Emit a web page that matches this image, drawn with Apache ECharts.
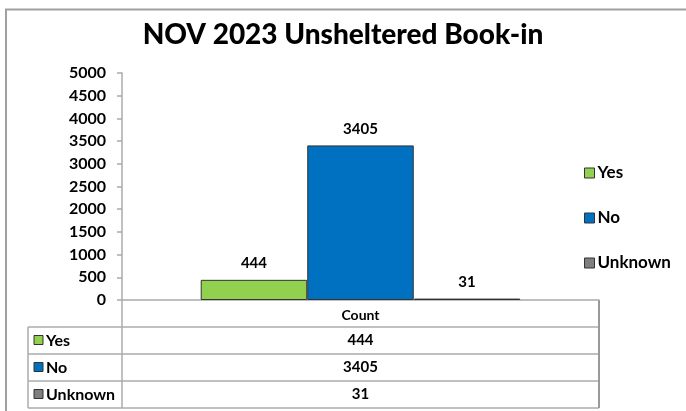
<!DOCTYPE html>
<html>
<head>
<meta charset="utf-8">
<script src="https://cdn.jsdelivr.net/npm/echarts@6/dist/echarts.min.js"></script>
<style>
  html, body { margin: 0; padding: 0; background: #fff; }
  #chart { width: 686px; height: 411px; }
</style>
</head>
<body>
<div id="chart"></div>
<script>
const titleText = 'NOV 2023 Unsheltered Book-in';
const categories = ['Count'];
const seriesNames = ['Yes', 'No', 'Unknown'];
const yesValues = [444];
const noValues = [3405];
const unknownValues = [31];
const seriesValues = [yesValues, noValues, unknownValues];
const seriesColors = ['#92D050', '#0070C0', '#7F7F7F'];

const FONT = 'Lato, "Noto Sans", sans-serif';
const gridLeft = 122, gridRight = 599, axisY = 300;
const rowTops = [327, 354, 381];
const rowH = 27;
const tableLeft = 28;
const lineColor = '#ababab';

const chart = echarts.init(document.getElementById('chart'), null, { renderer: 'canvas' });

const graphics = [];
// outer chart border (partially visible)
graphics.push({ type: 'polyline', shape: { points: [[6, 420], [6, 9.5], [700, 9.5]] },
  style: { stroke: '#a0a0a0', lineWidth: 2, fill: null }, z: 0 });
// table lines
rowTops.forEach((t) => {
  graphics.push({ type: 'line', shape: { x1: tableLeft, y1: t, x2: gridRight, y2: t },
    style: { stroke: lineColor, lineWidth: 1.5 } });
});
graphics.push({ type: 'line', shape: { x1: tableLeft, y1: rowTops[2] + rowH, x2: gridRight, y2: rowTops[2] + rowH },
  style: { stroke: lineColor, lineWidth: 1.5 } });
graphics.push({ type: 'line', shape: { x1: tableLeft, y1: rowTops[0], x2: tableLeft, y2: rowTops[2] + rowH },
  style: { stroke: lineColor, lineWidth: 1.5 } });
graphics.push({ type: 'line', shape: { x1: gridLeft, y1: axisY, x2: gridLeft, y2: rowTops[2] + rowH },
  style: { stroke: lineColor, lineWidth: 1.5 } });
graphics.push({ type: 'line', shape: { x1: gridRight, y1: axisY, x2: gridRight, y2: rowTops[2] + rowH },
  style: { stroke: '#999', lineWidth: 2 } });
// table rows
seriesNames.forEach((name, i) => {
  const cy = rowTops[i] + rowH / 2;
  graphics.push({ type: 'rect', shape: { x: 34, y: cy - 5, width: 9, height: 9 },
    style: { fill: seriesColors[i], stroke: '#333', lineWidth: 1 } });
  graphics.push({ type: 'text', x: 46, y: cy, style: { text: name, font: 'bold 16px ' + FONT,
    fill: '#000', textAlign: 'left', textVerticalAlign: 'middle' } });
  graphics.push({ type: 'text', x: (gridLeft + gridRight) / 2, y: cy, style: { text: String(seriesValues[i][0]),
    font: 'bold 15px ' + FONT, fill: '#000', textAlign: 'center', textVerticalAlign: 'middle' } });
});

const option = {
  backgroundColor: '#fff',
  animation: false,
  title: {
    text: titleText, left: 'center', top: 16,
    textStyle: { fontFamily: FONT, fontWeight: 900, fontSize: 28, color: '#000' }
  },
  legend: {
    orient: 'vertical', left: 579, top: 159, itemGap: 27,
    icon: 'rect', itemWidth: 10, itemHeight: 10,
    itemStyle: { borderColor: '#333', borderWidth: 1 },
    textStyle: { fontFamily: FONT, fontWeight: 'bold', fontSize: 17, color: '#000', lineHeight: 18, padding: [0, 0, 0, -2] },
    data: seriesNames
  },
  grid: { left: gridLeft, right: 686 - gridRight, top: 73, bottom: 411 - axisY, containLabel: false },
  xAxis: {
    type: 'category', data: categories,
    axisLine: { show: true, lineStyle: { color: lineColor, width: 1.5 } },
    axisTick: { show: false },
    axisLabel: { show: true, margin: 8, fontFamily: FONT, fontWeight: 'bold', fontSize: 14, color: '#000' },
    splitLine: { show: false }
  },
  yAxis: {
    type: 'value', min: 0, max: 5000, interval: 500,
    axisLine: { show: true, lineStyle: { color: lineColor, width: 1.5 } },
    axisTick: { show: true, length: 5, lineStyle: { color: lineColor, width: 1.5 } },
    axisLabel: { margin: 16, fontFamily: FONT, fontWeight: 'bold', fontSize: 16, color: '#000',
      formatter: (v) => String(v) },
    splitLine: { show: false }
  },
  series: seriesNames.map((name, i) => ({
    name, type: 'bar', data: seriesValues[i],
    barGap: '0%', barCategoryGap: '33%',
    itemStyle: { color: seriesColors[i], borderColor: '#333', borderWidth: 1 },
    label: { show: true, position: 'top', distance: 9, fontFamily: FONT, fontWeight: 'bold', fontSize: 15, color: '#000' }
  })),
  graphic: graphics
};
chart.setOption(option);
</script>
</body>
</html>
